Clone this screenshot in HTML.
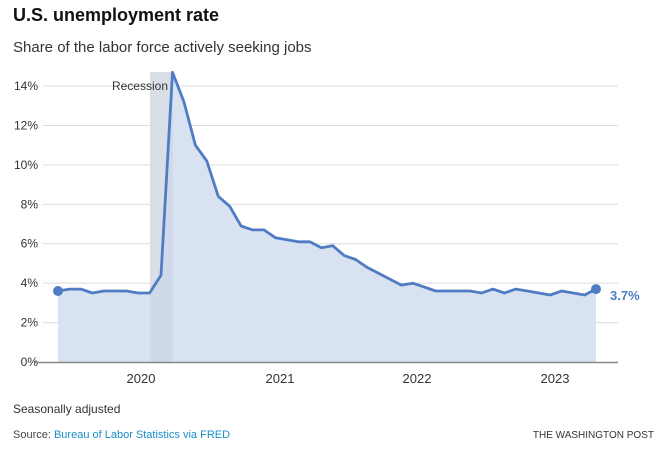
<!DOCTYPE html>
<html><head><meta charset="utf-8"><style>
body{margin:0;background:#fff;width:667px;height:459px;overflow:hidden;font-family:"Liberation Sans",sans-serif;}
</style></head><body>
<svg id="s" width="667" height="459" xmlns="http://www.w3.org/2000/svg" font-family="Liberation Sans, sans-serif">
<text x="13" y="21" font-size="18" font-weight="bold" fill="#111">U.S. unemployment rate</text>
<text x="13" y="52" font-size="15" fill="#333">Share of the labor force actively seeking jobs</text>
<g id="grid" stroke="#dcdcdc" stroke-width="1"></g>
<rect x="150" y="72" width="23" height="290" fill="#ececec"/>
<path id="area" fill="#d9e2f1"/>
<rect x="150" y="72" width="23" height="290" fill="#c6cfdf" opacity="0.45"/>
<g id="ylab" font-size="12" fill="#333" text-anchor="end"></g>
<line x1="35" y1="362.5" x2="618" y2="362.5" stroke="#888" stroke-width="1.5"/>
<path id="line" fill="none" stroke="#4f7cc3" stroke-width="2.8" stroke-linejoin="round"/>
<circle cx="58" cy="291" r="5" fill="#4f7cc3"/>
<circle id="endc" r="5" fill="#4f7cc3"/>
<text x="168" y="90" font-size="12" fill="#333" text-anchor="end">Recession</text>
<text x="610" y="300" font-size="13" font-weight="bold" fill="#4f7cc3">3.7%</text>
<g font-size="13" fill="#333" text-anchor="middle">
<text x="141" y="383">2020</text><text x="280" y="383">2021</text><text x="417" y="383">2022</text><text x="555" y="383">2023</text>
</g>
<text x="13" y="413" font-size="12" fill="#333">Seasonally adjusted</text>
<text x="13" y="438" font-size="11" fill="#444">Source: <tspan fill="#1a8fc9">Bureau of Labor Statistics via FRED</tspan></text>
<text x="654" y="438" font-size="10" fill="#333" text-anchor="end">THE WASHINGTON POST</text>
</svg>
<script>
var d=[3.6,3.7,3.7,3.5,3.6,3.6,3.6,3.5,3.5,4.4,14.7,13.2,11.0,10.2,8.4,7.9,6.9,6.7,6.7,6.3,6.2,6.1,6.1,5.8,5.9,5.4,5.2,4.8,4.5,4.2,3.9,4.0,3.8,3.6,3.6,3.6,3.6,3.5,3.7,3.5,3.7,3.6,3.5,3.4,3.6,3.5,3.4,3.7];
function X(i){return 58+i*538/47;}function Y(v){return 362-v*19.71;}
var p="";d.forEach(function(v,i){p+=(i?"L":"M")+X(i).toFixed(1)+","+Y(v).toFixed(1);});
document.getElementById("line").setAttribute("d",p);
document.getElementById("area").setAttribute("d",p+"L596,362L58,362Z");
var e=document.getElementById("endc");e.setAttribute("cx",596);e.setAttribute("cy",Y(3.7));
var g=document.getElementById("grid"),l=document.getElementById("ylab"),ns="http://www.w3.org/2000/svg";
for(var k=1;k<=7;k++){var y=Y(2*k);var ln=document.createElementNS(ns,"line");ln.setAttribute("x1",43);ln.setAttribute("x2",618);ln.setAttribute("y1",y);ln.setAttribute("y2",y);g.appendChild(ln);}
for(var k=0;k<=7;k++){var t=document.createElementNS(ns,"text");t.setAttribute("x",38);t.setAttribute("y",Y(2*k)+4);t.textContent=(2*k)+"%";l.appendChild(t);}
</script>
</body></html>
